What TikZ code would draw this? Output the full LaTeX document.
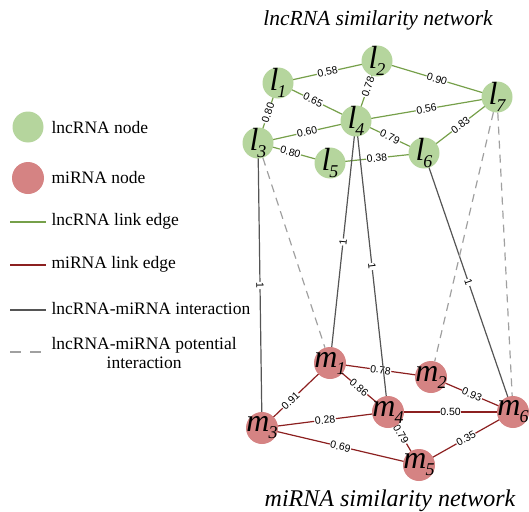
\documentclass[tikz,border=0pt]{standalone}
\usepackage{fontspec}
\setmainfont{Liberation Serif}
\newfontfamily\wfont{Liberation Sans}
\usetikzlibrary{backgrounds}
\definecolor{lncfill}{RGB}{181,213,157}
\definecolor{mirfill}{RGB}{213,131,131}
\definecolor{lncedge}{RGB}{118,160,74}
\definecolor{miredge}{RGB}{140,32,32}
\definecolor{intedge}{RGB}{85,85,85}
\definecolor{potedge}{RGB}{160,160,160}
% node text: letter with a lowered subscript
\newcommand{\nlab}[2]{{\fontsize{32}{32}\selectfont\itshape #1}\kern-1pt{\fontsize{18}{18}\selectfont\itshape\raisebox{-7pt}{#2}}}

\begin{document}
\begin{tikzpicture}[x=1pt,y=-1pt,
    lnode/.style={circle, fill=lncfill, minimum size=31pt, inner sep=0pt},
    mnode/.style={circle, fill=mirfill, minimum size=32pt, inner sep=0pt},
    lncline/.style={draw=lncedge, line width=1.2pt},
    mirline/.style={draw=miredge, line width=1.2pt},
    intline/.style={draw=intedge, line width=1.2pt},
    potline/.style={draw=potedge, line width=1.2pt, dash pattern=on 8pt off 6pt},
    wlab/.style={font=\wfont\fontsize{10.5}{10.5}\selectfont, fill=white, inner sep=0.6pt, sloped},
    legtext/.style={anchor=west, font=\fontsize{17.5}{17.5}\selectfont}]

    \useasboundingbox (0,0) rectangle (529,511);

    % Titles
    \node (ttop) at (378,20) {\fontsize{21.5}{21.5}\selectfont\itshape lncRNA similarity network};
    \node (tbot) at (390,501) {\fontsize{24}{24}\selectfont\itshape miRNA similarity network};

    % lncRNA nodes
    \node[lnode, label={center:\nlab{l}{1}}] (l1) at (278,83) {};
    \node[lnode, label={center:\nlab{l}{2}}] (l2) at (377,61) {};
    \node[lnode, label={center:\nlab{l}{3}}] (l3) at (258,143) {};
    \node[lnode, label={center:\nlab{l}{4}}] (l4) at (356,121) {};
    \node[lnode, label={center:\nlab{l}{5}}] (l5) at (330,163) {};
    \node[lnode, label={center:\nlab{l}{6}}] (l6) at (424,153) {};
    \node[lnode, label={center:\nlab{l}{7}}] (l7) at (497,97) {};

    % miRNA nodes
    \node[mnode, label={center:\nlab{m}{1}}] (m1) at (330,363) {};
    \node[mnode, label={center:\nlab{m}{2}}] (m2) at (431,377) {};
    \node[mnode, label={center:\nlab{m}{3}}] (m3) at (262,428) {};
    \node[mnode, label={center:\nlab{m}{4}}] (m4) at (388,412) {};
    \node[mnode, label={center:\nlab{m}{5}}] (m5) at (419,465) {};
    \node[mnode, label={center:\nlab{m}{6}}] (m6) at (513,412) {};

    \begin{scope}[on background layer]
    % lncRNA link edges
    \draw[lncline] (l1.center) -- node[wlab] {0.58} (l2.center);
    \draw[lncline] (l2.center) -- node[wlab, pos=0.43] {0.78} (l4.center);
    \draw[lncline] (l2.center) -- node[wlab] {0.90} (l7.center);
    \draw[lncline] (l1.center) -- node[wlab] {0.80} (l3.center);
    \draw[lncline] (l1.center) -- node[wlab, pos=0.45] {0.65} (l4.center);
    \draw[lncline] (l4.center) -- node[wlab] {0.56} (l7.center);
    \draw[lncline] (l3.center) -- node[wlab] {0.60} (l4.center);
    \draw[lncline] (l4.center) -- node[wlab] {0.79} (l6.center);
    \draw[lncline] (l7.center) -- node[wlab] {0.83} (l6.center);
    \draw[lncline] (l3.center) -- node[wlab, pos=0.45] {0.80} (l5.center);
    \draw[lncline] (l5.center) -- node[wlab] {0.38} (l6.center);

    % miRNA link edges
    \draw[mirline] (m3.center) -- node[wlab, pos=0.42] {0.91} (m1.center);
    \draw[mirline] (m1.center) -- node[wlab] {0.78} (m2.center);
    \draw[mirline] (m1.center) -- node[wlab] {0.86} (m4.center);
    \draw[mirline] (m2.center) -- node[wlab] {0.93} (m6.center);
    \draw[mirline] (m3.center) -- node[wlab] {0.28} (m4.center);
    \draw[mirline] (m4.center) -- node[wlab] {0.50} (m6.center);
    \draw[mirline] (m4.center) -- node[wlab, pos=0.42] {0.79} (m5.center);
    \draw[mirline] (m3.center) -- node[wlab] {0.69} (m5.center);
    \draw[mirline] (m5.center) -- node[wlab] {0.35} (m6.center);

    % lncRNA-miRNA interactions
    \draw[intline] (l3.center) -- node[wlab] {1} (m3.center);
    \draw[intline] (l4.center) -- node[wlab] {1} (m1.center);
    \draw[intline] (l4.center) -- node[wlab] {1} (m4.center);
    \draw[intline] (l6.center) -- node[wlab] {1} (m6.center);
    \end{scope}

    % potential interactions
    \draw[potline] (l3) -- (m1);
    \draw[potline] (l7) -- (m2);
    \draw[potline] (l7) -- (m6);

    % Legend
    \node[lnode] (klnc) at (28,127) {};
    \node[legtext] (tlnc) at (48,128) {lncRNA node};
    \node[mnode] (kmir) at (28,178) {};
    \node[legtext] (tmir) at (48,178) {miRNA node};

    \coordinate (e1a) at (10,222);
    \coordinate (e1b) at (46,222);
    \draw[lncline, line width=1.6pt] (e1a) -- (e1b);
    \node[legtext] (te1) at (48,221) {lncRNA link edge};

    \coordinate (e2a) at (10,265);
    \coordinate (e2b) at (46,265);
    \draw[mirline, line width=1.6pt] (e2a) -- (e2b);
    \node[legtext] (te2) at (48,264) {miRNA link edge};

    \coordinate (e3a) at (10,310);
    \coordinate (e3b) at (46,310);
    \draw[intline, line width=1.6pt] (e3a) -- (e3b);
    \node[legtext] (te3) at (48,309) {lncRNA-miRNA interaction};

    \coordinate (e4a) at (10,352);
    \coordinate (e4b) at (46,352);
    \draw[potline, line width=1.6pt, dash pattern=on 11pt off 9pt] (e4a) -- (e4b);
    \node[legtext, align=center] (te4) at (48,353) {lncRNA-miRNA potential\\[1pt]interaction};

\end{tikzpicture}
\end{document}
